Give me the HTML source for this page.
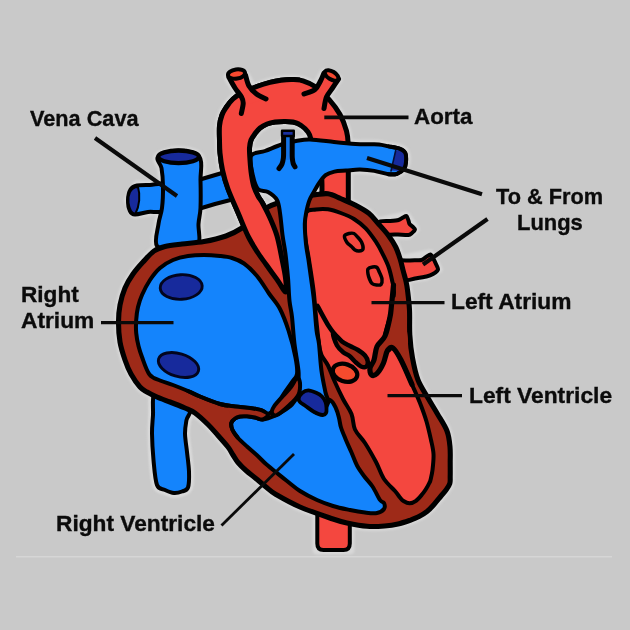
<!DOCTYPE html>
<html><head><meta charset="utf-8"><title>Heart diagram</title>
<style>
html,body{margin:0;padding:0;background:#c9c9c9;}
body{width:630px;height:630px;overflow:hidden;position:relative;font-family:"Liberation Sans",sans-serif;}
svg{position:absolute;left:0;top:0;display:block}
#wrap{position:absolute;left:0;top:0;width:630px;height:630px;filter:blur(0.45px)}
.lb{position:absolute;font-family:"Liberation Sans",sans-serif;font-weight:bold;font-size:22.5px;line-height:26px;color:#0b0b0b;white-space:nowrap;letter-spacing:0px;-webkit-text-stroke:0.35px #0b0b0b}
</style></head><body>
<div id="wrap">
<svg width="630" height="630" viewBox="0 0 630 630">
<rect width="630" height="630" fill="#c9c9c9"/>
<defs><clipPath id="frontclip"><rect x="200" y="60" width="100" height="250"/></clipPath><filter id="halo" x="-10%" y="-10%" width="120%" height="120%"><feGaussianBlur stdDeviation="1.1"/></filter></defs>
<rect x="16" y="556" width="596" height="1.5" fill="#d6d6d6"/>
<g fill="none" stroke="#d8d8d8" stroke-width="9" stroke-linejoin="round" filter="url(#halo)"><path d="M118.5,322.0 C118.5,315.8 118.9,310.7 120.0,305.0 C121.1,299.3 122.8,293.2 125.0,288.0 C127.2,282.8 130.0,278.3 133.0,274.0 C136.0,269.7 139.5,265.8 143.0,262.0 C146.5,258.2 150.3,253.6 154.0,251.0 C157.7,248.4 160.3,247.7 165.0,246.5 C169.7,245.3 175.5,244.8 182.0,244.0 C188.5,243.2 196.7,242.8 204.0,241.5 C211.3,240.2 219.7,238.2 226.0,236.0 C232.3,233.8 237.0,231.2 242.0,228.0 C247.0,224.8 251.7,220.5 256.0,217.0 C260.3,213.5 262.3,210.0 268.0,207.0 C273.7,204.0 284.2,200.8 290.0,199.0 C295.8,197.2 298.8,197.2 303.0,196.5 C307.2,195.8 311.2,195.2 315.4,194.8 C319.6,194.4 323.8,193.2 328.0,193.8 C332.2,194.4 336.2,196.7 340.5,198.5 C344.8,200.3 349.3,202.0 354.0,204.5 C358.7,207.0 364.7,210.1 368.8,213.3 C372.9,216.6 375.3,220.3 378.6,224.0 C381.9,227.7 385.8,231.9 388.6,235.7 C391.5,239.5 393.8,243.2 395.7,247.0 C397.6,250.8 398.8,254.8 400.0,258.6 C401.2,262.4 402.1,266.4 403.0,270.0 C403.9,273.6 404.9,276.7 405.7,280.0 C406.4,283.3 406.9,285.0 407.5,290.0 C408.1,295.0 409.1,302.5 409.5,310.0 C409.9,317.5 409.3,327.0 409.8,335.0 C410.3,343.0 411.1,350.5 412.5,358.0 C413.9,365.5 415.4,373.3 418.0,380.0 C420.6,386.7 424.8,392.3 428.0,398.0 C431.2,403.7 434.3,408.5 437.5,414.0 C440.7,419.5 444.9,425.5 447.0,431.0 C449.1,436.5 449.5,441.8 450.0,447.0 C450.5,452.2 450.2,457.2 450.2,462.0 C450.2,466.8 450.3,472.4 450.2,476.0 C450.1,479.6 450.5,481.2 449.8,483.5 C449.1,485.8 447.5,487.9 446.0,490.0 C444.5,492.1 443.0,493.6 441.0,496.0 C439.0,498.4 436.3,501.9 434.0,504.5 C431.7,507.1 429.5,509.5 427.0,511.5 C424.5,513.5 421.8,515.0 419.0,516.5 C416.2,518.0 413.5,519.0 410.0,520.3 C406.5,521.5 402.2,523.0 398.0,524.0 C393.8,525.0 389.7,525.6 384.5,526.0 C379.3,526.4 373.2,526.8 367.0,526.3 C360.8,525.8 352.7,524.2 347.0,523.0 C341.3,521.8 340.8,521.7 333.0,519.0 C325.2,516.3 309.5,511.1 300.0,507.0 C290.5,502.9 281.7,497.8 276.0,494.5 C270.3,491.2 269.2,489.6 266.0,487.0 C262.8,484.4 259.8,481.8 256.5,479.0 C253.2,476.2 249.1,473.2 246.0,470.5 C242.9,467.8 240.2,465.1 238.0,462.5 C235.8,459.9 234.7,457.6 233.0,455.0 C231.3,452.4 230.5,450.2 228.0,447.0 C225.5,443.8 221.3,439.2 218.0,435.5 C214.7,431.8 211.8,428.2 208.0,424.5 C204.2,420.8 198.8,415.8 195.0,413.0 C191.2,410.2 189.2,409.8 185.0,408.0 C180.8,406.2 174.7,403.8 170.0,402.0 C165.3,400.2 160.8,398.7 157.0,397.0 C153.2,395.3 149.8,393.7 147.0,392.0 C144.2,390.3 142.7,390.0 140.0,387.0 C137.3,384.0 133.5,378.5 131.0,374.0 C128.5,369.5 126.8,365.3 125.0,360.0 C123.2,354.7 121.1,348.3 120.0,342.0 C118.9,335.7 118.5,328.2 118.5,322.0Z"/><path d="M154.5,392.0 C151.7,396.5 153.4,408.1 153.0,415.0 C152.6,421.9 151.9,426.0 152.0,433.5 C152.1,441.0 152.7,451.4 153.5,460.0 C154.3,468.6 155.1,480.0 157.0,485.0 C158.9,490.0 162.2,488.7 165.0,490.0 C167.8,491.3 171.2,492.8 174.0,493.0 C176.8,493.2 179.7,492.4 182.0,491.5 C184.3,490.6 186.8,490.8 188.0,487.5 C189.2,484.2 189.2,477.4 189.0,471.5 C188.8,465.6 187.7,458.3 187.0,452.0 C186.3,445.7 185.1,438.8 185.0,433.5 C184.9,428.2 185.8,424.2 186.5,420.0 C187.2,415.8 192.2,413.3 189.5,408.0 C186.8,402.7 175.8,390.7 170.0,388.0 C164.2,385.3 157.3,387.5 154.5,392.0Z"/><path d="M285.8,292.0 C284.6,292.5 281.2,285.5 278.0,281.0 C274.8,276.5 269.8,269.7 266.5,265.0 C263.2,260.3 261.0,257.7 258.0,253.0 C255.0,248.3 251.7,243.3 248.5,237.0 C245.3,230.7 242.4,223.0 239.0,215.0 C235.6,207.0 230.8,196.5 228.0,189.0 C225.2,181.5 223.8,176.0 222.5,170.0 C221.2,164.0 220.5,158.0 220.0,153.0 C219.5,148.0 219.6,144.5 219.5,140.0 C219.4,135.5 219.1,130.2 219.5,126.0 C219.9,121.8 220.8,118.2 222.0,115.0 C223.2,111.8 224.7,109.7 226.5,107.0 C228.3,104.3 230.6,101.2 233.0,99.0 C235.4,96.8 236.9,95.6 241.0,93.5 C245.1,91.4 252.7,88.2 257.5,86.3 C262.3,84.4 266.1,83.3 270.0,82.3 C273.9,81.3 277.2,80.7 281.0,80.2 C284.8,79.7 289.3,79.4 293.0,79.5 C296.7,79.6 299.3,79.6 303.0,80.8 C306.7,82.0 310.7,83.4 315.0,86.5 C319.3,89.6 324.8,94.6 329.0,99.3 C333.2,104.0 337.1,109.2 340.0,114.5 C342.9,119.8 345.1,125.9 346.5,131.0 C347.9,136.1 347.9,140.2 348.2,145.0 C348.5,149.8 348.3,154.2 348.3,160.0 C348.3,165.8 348.3,173.3 348.3,180.0 C348.3,186.7 348.3,195.3 348.3,200.0 C348.3,204.7 352.7,206.7 348.3,208.0 C343.9,209.3 326.4,211.0 322.0,208.0 C317.6,205.0 322.1,195.3 322.0,190.0 C321.9,184.7 322.3,180.7 321.3,176.0 C320.3,171.3 317.6,166.3 316.0,162.0 C314.4,157.7 312.3,153.8 311.5,150.0 C310.7,146.2 311.6,142.5 311.0,139.5 C310.4,136.5 309.8,134.4 308.0,132.0 C306.2,129.6 303.0,126.7 300.5,125.0 C298.0,123.3 295.8,122.6 293.0,122.0 C290.2,121.4 287.0,121.5 284.0,121.5 C281.0,121.5 277.8,121.6 275.0,122.0 C272.2,122.4 269.5,123.0 267.0,124.0 C264.5,125.0 262.0,126.4 260.0,128.0 C258.0,129.6 256.5,131.6 255.0,133.6 C253.5,135.6 251.9,137.6 251.0,140.0 C250.1,142.4 249.7,144.7 249.5,148.0 C249.3,151.3 249.7,155.5 250.0,160.0 C250.3,164.5 250.8,170.5 251.5,175.0 C252.2,179.5 252.9,183.5 254.0,187.0 C255.1,190.5 256.5,193.2 258.0,196.0 C259.5,198.8 261.0,200.3 263.0,204.0 C265.0,207.7 267.7,212.7 270.0,218.0 C272.3,223.3 275.0,229.2 277.0,236.0 C279.0,242.8 280.6,252.0 282.0,259.0 C283.4,266.0 284.9,272.5 285.5,278.0 C286.1,283.5 287.1,291.5 285.8,292.0Z"/><path d="M158.0,157.0 C155.2,159.9 160.7,163.2 161.5,168.0 C162.3,172.8 162.9,179.3 163.0,186.0 C163.1,192.7 162.8,201.7 162.0,208.0 C161.2,214.3 159.3,217.7 158.5,224.0 C157.7,230.3 153.8,241.7 157.0,246.0 C160.2,250.3 171.2,250.0 178.0,250.0 C184.8,250.0 194.6,250.3 198.0,246.0 C201.4,241.7 198.1,230.3 198.5,224.0 C198.9,217.7 200.2,215.3 200.5,208.0 C200.8,200.7 200.7,188.5 200.5,180.0 C200.3,171.5 203.2,161.9 199.5,157.0 C195.8,152.1 184.9,150.5 178.0,150.5 C171.1,150.5 160.8,154.1 158.0,157.0Z"/><path d="M251.0,156.0 C253.0,151.8 259.9,152.9 265.0,151.0 C270.1,149.1 276.3,146.2 281.5,144.5 C286.7,142.8 291.2,141.8 296.0,141.0 C300.8,140.2 303.7,139.3 310.0,139.5 C316.3,139.7 326.4,141.2 334.0,142.0 C341.6,142.8 349.5,143.6 355.5,144.0 C361.5,144.4 366.1,144.2 370.0,144.3 C373.9,144.4 375.9,144.2 379.0,144.5 C382.1,144.8 385.1,145.7 388.6,146.4 C392.1,147.1 397.2,147.7 400.0,148.8 C402.8,149.9 404.3,150.8 405.3,153.0 C406.3,155.2 406.2,159.4 406.0,162.0 C405.8,164.6 405.5,166.8 404.0,168.8 C402.5,170.8 399.6,172.9 397.0,173.8 C394.4,174.7 392.4,174.8 388.6,174.3 C384.8,173.8 379.1,171.7 374.3,170.9 C369.5,170.1 364.7,169.7 360.0,169.6 C355.3,169.5 350.3,170.3 346.0,170.6 C341.7,170.9 337.8,170.8 334.4,171.6 C331.0,172.4 328.1,173.3 325.6,175.2 C323.1,177.1 321.1,180.2 319.2,182.9 C317.3,185.7 315.6,188.8 314.0,191.7 C312.4,194.6 310.6,197.2 309.3,200.6 C308.0,204.0 307.1,208.1 306.3,212.0 C305.6,215.9 304.9,218.7 304.8,224.0 C304.8,229.3 305.4,238.0 306.0,244.0 C306.6,250.0 307.7,254.3 308.5,260.0 C309.3,265.7 310.1,271.2 311.0,278.0 C311.9,284.8 313.1,292.3 314.0,301.0 C314.9,309.7 315.7,322.8 316.5,330.0 C317.3,337.2 318.2,337.2 319.0,344.0 C319.8,350.8 320.4,362.9 321.5,371.0 C322.6,379.1 324.4,387.2 325.5,392.5 C326.6,397.8 329.2,399.6 328.0,403.0 C326.8,406.4 322.7,414.2 318.0,413.0 C313.3,411.8 303.2,403.0 300.0,396.0 C296.8,389.0 299.4,379.7 298.5,371.0 C297.6,362.3 295.6,353.0 294.5,344.0 C293.4,335.0 292.8,324.2 292.0,317.0 C291.2,309.8 290.2,307.5 289.5,301.0 C288.8,294.5 288.7,285.8 288.0,278.0 C287.3,270.2 286.4,261.2 285.5,254.0 C284.6,246.8 283.4,241.8 282.5,235.0 C281.6,228.2 280.9,218.8 280.0,213.0 C279.1,207.2 279.0,203.5 277.0,200.0 C275.0,196.5 271.2,193.8 268.0,192.0 C264.8,190.2 260.5,191.7 258.0,189.0 C255.5,186.3 254.2,181.5 253.0,176.0 C251.8,170.5 249.0,160.2 251.0,156.0Z"/><path d="M165,185 L137,185 L128,200 L135,214 L165,209Z"/><path d="M317,505 L317,550 L350,550 L350,505Z"/><path d="M379,222 L406,216 L415,229 L408,235 L385,234Z"/><path d="M395,261 L430,254 L438,269 L426,276 L405,279Z"/><path d="M228,77 L245,75 L256,95 L243,100Z"/><path d="M324,73 L338,79 L326,97 L314,90Z"/></g>
<path d="M154.5,392.0 C151.7,396.5 153.4,408.1 153.0,415.0 C152.6,421.9 151.9,426.0 152.0,433.5 C152.1,441.0 152.7,451.4 153.5,460.0 C154.3,468.6 155.1,480.0 157.0,485.0 C158.9,490.0 162.2,488.7 165.0,490.0 C167.8,491.3 171.2,492.8 174.0,493.0 C176.8,493.2 179.7,492.4 182.0,491.5 C184.3,490.6 186.8,490.8 188.0,487.5 C189.2,484.2 189.2,477.4 189.0,471.5 C188.8,465.6 187.7,458.3 187.0,452.0 C186.3,445.7 185.1,438.8 185.0,433.5 C184.9,428.2 185.8,424.2 186.5,420.0 C187.2,415.8 192.2,413.3 189.5,408.0 C186.8,402.7 175.8,390.7 170.0,388.0 C164.2,385.3 157.3,387.5 154.5,392.0Z" fill="none" stroke="#d9d9d9" stroke-width="8" filter="url(#halo)"/>
<path d="M154.5,392.0 C151.7,396.5 153.4,408.1 153.0,415.0 C152.6,421.9 151.9,426.0 152.0,433.5 C152.1,441.0 152.7,451.4 153.5,460.0 C154.3,468.6 155.1,480.0 157.0,485.0 C158.9,490.0 162.2,488.7 165.0,490.0 C167.8,491.3 171.2,492.8 174.0,493.0 C176.8,493.2 179.7,492.4 182.0,491.5 C184.3,490.6 186.8,490.8 188.0,487.5 C189.2,484.2 189.2,477.4 189.0,471.5 C188.8,465.6 187.7,458.3 187.0,452.0 C186.3,445.7 185.1,438.8 185.0,433.5 C184.9,428.2 185.8,424.2 186.5,420.0 C187.2,415.8 192.2,413.3 189.5,408.0 C186.8,402.7 175.8,390.7 170.0,388.0 C164.2,385.3 157.3,387.5 154.5,392.0Z" fill="#1484fc" stroke="#000" stroke-width="4" stroke-linejoin="round" stroke-linecap="round" />
<path d="M317.3,505 L317.3,543.5 Q317.3,550 323.5,550 L343.5,550 Q349.8,550 349.8,543.5 L349.8,505 Z" fill="#f4473f" stroke="#000" stroke-width="4" stroke-linejoin="round" stroke-linecap="round" />
<path d="M165.0,185.5 C162.5,181.4 154.7,185.0 150.0,185.0 C145.3,185.0 140.2,184.8 137.0,185.5 C133.8,186.2 132.0,187.1 130.5,189.5 C129.0,191.9 128.1,196.4 128.0,200.0 C127.9,203.6 128.8,208.6 130.0,211.0 C131.2,213.4 132.0,214.3 135.0,214.5 C138.0,214.7 143.0,212.8 148.0,212.0 C153.0,211.2 162.2,213.9 165.0,209.5 C167.8,205.1 167.5,189.6 165.0,185.5Z" fill="#1484fc" stroke="#000" stroke-width="4" stroke-linejoin="round" stroke-linecap="round" />
<path d="M138,187 C130,187 127.5,196 128.5,203 C129.5,210 132,214 135.5,213.5 C139.5,206 140.5,195 138,187Z" fill="#172a9c" stroke="#000" stroke-width="2" stroke-linejoin="round" stroke-linecap="round" />
<path d="M195.0,181.0 L222.0,173.0 L245.0,166.0 L245.0,197.0 L228.5,200.5 L215.0,204.0 L195.0,210.0Z" fill="#1484fc" stroke="#000" stroke-width="4" stroke-linejoin="round" stroke-linecap="round" />
<path d="M158.0,157.0 C155.2,159.9 160.7,163.2 161.5,168.0 C162.3,172.8 162.9,179.3 163.0,186.0 C163.1,192.7 162.8,201.7 162.0,208.0 C161.2,214.3 159.3,217.7 158.5,224.0 C157.7,230.3 153.8,241.7 157.0,246.0 C160.2,250.3 171.2,250.0 178.0,250.0 C184.8,250.0 194.6,250.3 198.0,246.0 C201.4,241.7 198.1,230.3 198.5,224.0 C198.9,217.7 200.2,215.3 200.5,208.0 C200.8,200.7 200.7,188.5 200.5,180.0 C200.3,171.5 203.2,161.9 199.5,157.0 C195.8,152.1 184.9,150.5 178.0,150.5 C171.1,150.5 160.8,154.1 158.0,157.0Z" fill="#1484fc" stroke="#000" stroke-width="4" stroke-linejoin="round" stroke-linecap="round" />
<ellipse cx="178.6" cy="156.8" rx="20.3" ry="6.3" fill="#172a9c" stroke="#000" stroke-width="4.4"/>
<path d="M379.0,222.0 C379.6,220.5 387.7,221.2 390.0,221.0 C392.3,220.8 397.0,220.4 398.5,220.0 C400.0,219.6 402.1,218.0 403.0,217.5 C403.9,217.0 405.9,215.7 406.5,216.0 C407.1,216.3 407.9,219.1 408.3,220.0 C408.7,220.9 409.0,223.2 409.5,224.0 C410.0,224.8 411.9,225.9 412.5,226.5 C413.1,227.1 415.1,228.7 415.0,229.5 C414.9,230.3 412.8,232.4 412.0,233.0 C411.2,233.6 410.1,234.8 408.5,235.0 C406.9,235.2 400.7,234.6 398.0,234.5 C395.3,234.4 387.2,235.5 385.0,234.0 C382.8,232.5 378.4,223.5 379.0,222.0Z" fill="#f4473f" stroke="#000" stroke-width="4" stroke-linejoin="round" stroke-linecap="round" />
<path d="M395.0,261.5 C395.6,259.3 406.9,260.7 410.0,260.5 C413.1,260.3 419.6,260.4 421.5,260.0 C423.4,259.6 424.9,257.6 426.0,257.0 C427.1,256.4 429.6,254.3 430.5,254.5 C431.4,254.7 432.9,258.0 433.5,259.0 C434.1,260.0 435.0,261.8 435.5,263.0 C436.0,264.2 438.3,268.2 438.0,269.5 C437.7,270.8 434.3,273.2 433.0,274.0 C431.7,274.8 428.6,276.0 426.5,276.5 C424.4,277.0 417.5,278.1 415.0,278.5 C412.5,278.9 407.3,281.5 405.0,279.5 C402.7,277.5 394.4,263.7 395.0,261.5Z" fill="#f4473f" stroke="#000" stroke-width="4" stroke-linejoin="round" stroke-linecap="round" />
<path d="M285.8,292.0 C284.6,292.5 281.2,285.5 278.0,281.0 C274.8,276.5 269.8,269.7 266.5,265.0 C263.2,260.3 261.0,257.7 258.0,253.0 C255.0,248.3 251.7,243.3 248.5,237.0 C245.3,230.7 242.4,223.0 239.0,215.0 C235.6,207.0 230.8,196.5 228.0,189.0 C225.2,181.5 223.8,176.0 222.5,170.0 C221.2,164.0 220.5,158.0 220.0,153.0 C219.5,148.0 219.6,144.5 219.5,140.0 C219.4,135.5 219.1,130.2 219.5,126.0 C219.9,121.8 220.8,118.2 222.0,115.0 C223.2,111.8 224.7,109.7 226.5,107.0 C228.3,104.3 230.6,101.2 233.0,99.0 C235.4,96.8 236.9,95.6 241.0,93.5 C245.1,91.4 252.7,88.2 257.5,86.3 C262.3,84.4 266.1,83.3 270.0,82.3 C273.9,81.3 277.2,80.7 281.0,80.2 C284.8,79.7 289.3,79.4 293.0,79.5 C296.7,79.6 299.3,79.6 303.0,80.8 C306.7,82.0 310.7,83.4 315.0,86.5 C319.3,89.6 324.8,94.6 329.0,99.3 C333.2,104.0 337.1,109.2 340.0,114.5 C342.9,119.8 345.1,125.9 346.5,131.0 C347.9,136.1 347.9,140.2 348.2,145.0 C348.5,149.8 348.3,154.2 348.3,160.0 C348.3,165.8 348.3,173.3 348.3,180.0 C348.3,186.7 348.3,195.3 348.3,200.0 C348.3,204.7 352.7,206.7 348.3,208.0 C343.9,209.3 326.4,211.0 322.0,208.0 C317.6,205.0 322.1,195.3 322.0,190.0 C321.9,184.7 322.3,180.7 321.3,176.0 C320.3,171.3 317.6,166.3 316.0,162.0 C314.4,157.7 312.3,153.8 311.5,150.0 C310.7,146.2 311.6,142.5 311.0,139.5 C310.4,136.5 309.8,134.4 308.0,132.0 C306.2,129.6 303.0,126.7 300.5,125.0 C298.0,123.3 295.8,122.6 293.0,122.0 C290.2,121.4 287.0,121.5 284.0,121.5 C281.0,121.5 277.8,121.6 275.0,122.0 C272.2,122.4 269.5,123.0 267.0,124.0 C264.5,125.0 262.0,126.4 260.0,128.0 C258.0,129.6 256.5,131.6 255.0,133.6 C253.5,135.6 251.9,137.6 251.0,140.0 C250.1,142.4 249.7,144.7 249.5,148.0 C249.3,151.3 249.7,155.5 250.0,160.0 C250.3,164.5 250.8,170.5 251.5,175.0 C252.2,179.5 252.9,183.5 254.0,187.0 C255.1,190.5 256.5,193.2 258.0,196.0 C259.5,198.8 261.0,200.3 263.0,204.0 C265.0,207.7 267.7,212.7 270.0,218.0 C272.3,223.3 275.0,229.2 277.0,236.0 C279.0,242.8 280.6,252.0 282.0,259.0 C283.4,266.0 284.9,272.5 285.5,278.0 C286.1,283.5 287.1,291.5 285.8,292.0Z" fill="#f4473f" stroke="#000" stroke-width="5" stroke-linejoin="round" stroke-linecap="round" />
<path d="M118.5,322.0 C118.5,315.8 118.9,310.7 120.0,305.0 C121.1,299.3 122.8,293.2 125.0,288.0 C127.2,282.8 130.0,278.3 133.0,274.0 C136.0,269.7 139.5,265.8 143.0,262.0 C146.5,258.2 150.3,253.6 154.0,251.0 C157.7,248.4 160.3,247.7 165.0,246.5 C169.7,245.3 175.5,244.8 182.0,244.0 C188.5,243.2 196.7,242.8 204.0,241.5 C211.3,240.2 219.7,238.2 226.0,236.0 C232.3,233.8 237.0,231.2 242.0,228.0 C247.0,224.8 251.7,220.5 256.0,217.0 C260.3,213.5 262.3,210.0 268.0,207.0 C273.7,204.0 284.2,200.8 290.0,199.0 C295.8,197.2 298.8,197.2 303.0,196.5 C307.2,195.8 311.2,195.2 315.4,194.8 C319.6,194.4 323.8,193.2 328.0,193.8 C332.2,194.4 336.2,196.7 340.5,198.5 C344.8,200.3 349.3,202.0 354.0,204.5 C358.7,207.0 364.7,210.1 368.8,213.3 C372.9,216.6 375.3,220.3 378.6,224.0 C381.9,227.7 385.8,231.9 388.6,235.7 C391.5,239.5 393.8,243.2 395.7,247.0 C397.6,250.8 398.8,254.8 400.0,258.6 C401.2,262.4 402.1,266.4 403.0,270.0 C403.9,273.6 404.9,276.7 405.7,280.0 C406.4,283.3 406.9,285.0 407.5,290.0 C408.1,295.0 409.1,302.5 409.5,310.0 C409.9,317.5 409.3,327.0 409.8,335.0 C410.3,343.0 411.1,350.5 412.5,358.0 C413.9,365.5 415.4,373.3 418.0,380.0 C420.6,386.7 424.8,392.3 428.0,398.0 C431.2,403.7 434.3,408.5 437.5,414.0 C440.7,419.5 444.9,425.5 447.0,431.0 C449.1,436.5 449.5,441.8 450.0,447.0 C450.5,452.2 450.2,457.2 450.2,462.0 C450.2,466.8 450.3,472.4 450.2,476.0 C450.1,479.6 450.5,481.2 449.8,483.5 C449.1,485.8 447.5,487.9 446.0,490.0 C444.5,492.1 443.0,493.6 441.0,496.0 C439.0,498.4 436.3,501.9 434.0,504.5 C431.7,507.1 429.5,509.5 427.0,511.5 C424.5,513.5 421.8,515.0 419.0,516.5 C416.2,518.0 413.5,519.0 410.0,520.3 C406.5,521.5 402.2,523.0 398.0,524.0 C393.8,525.0 389.7,525.6 384.5,526.0 C379.3,526.4 373.2,526.8 367.0,526.3 C360.8,525.8 352.7,524.2 347.0,523.0 C341.3,521.8 340.8,521.7 333.0,519.0 C325.2,516.3 309.5,511.1 300.0,507.0 C290.5,502.9 281.7,497.8 276.0,494.5 C270.3,491.2 269.2,489.6 266.0,487.0 C262.8,484.4 259.8,481.8 256.5,479.0 C253.2,476.2 249.1,473.2 246.0,470.5 C242.9,467.8 240.2,465.1 238.0,462.5 C235.8,459.9 234.7,457.6 233.0,455.0 C231.3,452.4 230.5,450.2 228.0,447.0 C225.5,443.8 221.3,439.2 218.0,435.5 C214.7,431.8 211.8,428.2 208.0,424.5 C204.2,420.8 198.8,415.8 195.0,413.0 C191.2,410.2 189.2,409.8 185.0,408.0 C180.8,406.2 174.7,403.8 170.0,402.0 C165.3,400.2 160.8,398.7 157.0,397.0 C153.2,395.3 149.8,393.7 147.0,392.0 C144.2,390.3 142.7,390.0 140.0,387.0 C137.3,384.0 133.5,378.5 131.0,374.0 C128.5,369.5 126.8,365.3 125.0,360.0 C123.2,354.7 121.1,348.3 120.0,342.0 C118.9,335.7 118.5,328.2 118.5,322.0Z" fill="#9e2a18" stroke="#000" stroke-width="5.1" stroke-linejoin="round" stroke-linecap="round" />
<path d="M173.0,260.0 C168.3,262.0 163.8,264.7 160.0,268.0 C156.2,271.3 153.0,275.5 150.0,280.0 C147.0,284.5 144.0,290.5 142.0,295.0 C140.0,299.5 139.0,302.8 138.0,307.0 C137.0,311.2 136.5,315.7 136.2,320.0 C135.9,324.3 135.8,328.7 136.2,333.0 C136.6,337.3 137.5,342.0 138.5,346.0 C139.5,350.0 140.2,352.2 142.0,357.0 C143.8,361.8 146.5,370.6 149.5,374.5 C152.5,378.4 156.1,378.8 160.0,380.5 C163.9,382.2 168.3,383.2 173.0,385.0 C177.7,386.8 183.5,389.1 188.0,391.0 C192.5,392.9 194.7,394.3 200.0,396.5 C205.3,398.7 214.2,402.3 220.0,404.0 C225.8,405.7 230.0,405.8 235.0,406.5 C240.0,407.2 245.5,407.3 250.0,408.0 C254.5,408.7 259.0,409.5 262.0,410.5 C265.0,411.5 265.8,414.4 268.0,414.0 C270.2,413.6 272.5,411.2 275.0,408.0 C277.5,404.8 280.2,399.3 283.0,395.0 C285.8,390.7 289.7,385.5 292.0,382.0 C294.3,378.5 296.4,378.1 297.0,374.0 C297.6,369.9 296.9,364.8 295.5,357.5 C294.1,350.2 291.1,338.6 288.5,330.5 C285.9,322.4 283.2,315.2 280.0,309.0 C276.8,302.8 272.8,299.0 269.0,293.5 C265.2,288.0 261.2,281.0 257.0,276.0 C252.8,271.0 248.2,266.5 244.0,263.5 C239.8,260.5 236.0,259.2 232.0,258.0 C228.0,256.8 224.7,256.5 220.0,256.0 C215.3,255.5 209.3,255.0 204.0,255.0 C198.7,255.0 193.2,255.2 188.0,256.0 C182.8,256.8 177.7,258.0 173.0,260.0Z" fill="#1484fc" stroke="#000" stroke-width="4" stroke-linejoin="round" stroke-linecap="round" />
<ellipse cx="181.2" cy="287" rx="21" ry="12.3" fill="#172a9c" stroke="#02051e" stroke-width="2.9" transform="rotate(-3 181.2 287)"/>
<ellipse cx="178.5" cy="365" rx="20.8" ry="11.4" fill="#172a9c" stroke="#02051e" stroke-width="2.9" transform="rotate(17 178.5 365)"/>
<path d="M268.0,418.5 C265.1,419.6 264.6,419.7 262.4,419.5 C260.2,419.3 257.6,418.0 255.0,417.5 C252.4,417.0 249.5,416.5 247.0,416.3 C244.5,416.1 242.0,416.1 240.0,416.5 C238.0,416.9 236.4,417.4 235.0,418.5 C233.6,419.6 231.7,421.1 231.3,423.0 C230.9,424.9 231.4,427.6 232.5,430.0 C233.6,432.4 235.2,434.8 237.6,437.5 C240.0,440.2 243.8,443.6 247.0,446.5 C250.2,449.4 253.5,452.1 256.7,455.0 C259.9,457.9 262.8,461.2 266.0,464.0 C269.2,466.8 272.2,469.2 275.7,472.0 C279.2,474.8 282.9,477.8 287.0,481.0 C291.1,484.2 295.0,487.8 300.0,491.0 C305.0,494.2 311.5,497.5 317.0,500.0 C322.5,502.5 327.5,504.3 333.0,506.0 C338.5,507.7 344.7,508.9 350.0,510.0 C355.3,511.1 360.5,512.0 365.0,512.5 C369.5,513.0 373.8,513.6 377.0,513.0 C380.2,512.4 382.8,510.7 384.0,509.0 C385.2,507.3 384.7,504.5 384.0,503.0 C383.3,501.5 381.9,502.8 380.0,500.0 C378.1,497.2 375.2,490.5 372.5,486.5 C369.8,482.5 366.6,479.5 364.0,476.0 C361.4,472.5 359.1,469.4 357.0,465.5 C354.9,461.6 353.4,456.9 351.5,452.5 C349.6,448.1 347.2,443.2 345.5,439.0 C343.8,434.8 342.1,431.0 341.0,427.5 C339.9,424.0 339.8,421.2 339.0,418.0 C338.2,414.8 337.5,411.5 336.0,408.5 C334.5,405.5 333.5,401.8 330.0,400.0 C326.5,398.2 320.0,398.7 315.0,398.0 C310.0,397.3 304.1,394.7 300.0,396.0 C295.9,397.3 293.8,403.2 290.5,406.0 C287.2,408.8 283.8,410.9 280.0,413.0 C276.2,415.1 270.9,417.4 268.0,418.5Z" fill="#1484fc" stroke="#000" stroke-width="4" stroke-linejoin="round" stroke-linecap="round" />
<path d="M306.0,213.0 C307.8,208.8 312.3,210.1 316.0,209.5 C319.7,208.9 323.9,208.7 328.0,209.3 C332.1,209.9 336.5,211.4 340.8,213.0 C345.1,214.6 349.9,216.4 354.0,219.0 C358.1,221.6 362.1,224.6 365.7,228.3 C369.3,232.0 372.8,237.1 375.7,241.4 C378.6,245.7 380.8,250.0 382.9,254.3 C385.0,258.6 387.1,262.7 388.6,267.0 C390.1,271.3 391.1,275.8 392.0,280.0 C392.9,284.2 394.0,287.8 394.0,292.0 C394.0,296.2 392.7,300.8 392.0,305.0 C391.3,309.2 391.2,311.8 390.0,317.0 C388.8,322.2 385.3,330.5 385.0,336.0 C384.7,341.5 386.7,348.0 388.0,350.0 C389.3,352.0 390.8,346.3 393.0,348.0 C395.2,349.7 397.8,353.9 401.0,360.0 C404.2,366.1 408.8,377.3 412.0,384.5 C415.2,391.7 417.6,396.8 420.0,403.0 C422.4,409.2 424.7,415.3 426.5,421.5 C428.3,427.7 429.8,434.6 431.0,440.0 C432.2,445.4 433.2,449.0 433.5,454.0 C433.8,459.0 433.0,465.7 432.5,470.0 C432.0,474.3 431.0,477.8 430.5,480.0 C430.0,482.2 430.1,481.5 429.3,483.0 C428.6,484.5 427.2,487.1 426.0,489.0 C424.8,490.9 423.9,492.3 422.2,494.3 C420.5,496.3 418.1,499.3 416.0,500.8 C413.9,502.3 411.6,503.3 409.5,503.3 C407.4,503.3 405.1,502.0 403.5,501.0 C401.9,500.0 401.4,499.2 400.0,497.5 C398.6,495.8 397.7,494.1 395.0,491.0 C392.3,487.9 387.2,483.8 384.0,479.0 C380.8,474.2 379.2,468.0 376.0,462.0 C372.8,456.0 368.5,448.4 365.0,443.0 C361.5,437.6 357.2,434.3 355.0,429.5 C352.8,424.7 353.5,419.1 351.5,414.0 C349.5,408.9 345.9,404.7 343.0,399.0 C340.1,393.3 336.5,385.6 334.0,380.0 C331.5,374.4 330.1,369.7 328.0,365.5 C325.9,361.3 323.0,358.6 321.5,355.0 C320.0,351.4 319.9,350.3 319.0,344.0 C318.1,337.7 316.9,326.0 316.0,317.0 C315.1,308.0 314.7,299.5 313.5,290.0 C312.3,280.5 310.4,269.2 309.0,260.0 C307.6,250.8 305.5,242.8 305.0,235.0 C304.5,227.2 304.2,217.2 306.0,213.0Z" fill="#f4473f" stroke="#000" stroke-width="4" stroke-linejoin="round" stroke-linecap="round" />
<path d="M344.5,236.0 C344.8,234.8 347.7,233.8 349.0,233.5 C350.3,233.2 352.8,233.0 354.0,233.5 C355.2,234.0 357.0,236.4 358.0,237.5 C359.0,238.6 360.8,240.5 361.5,242.0 C362.2,243.5 363.3,247.8 363.0,249.0 C362.7,250.2 360.1,250.9 359.0,251.0 C357.9,251.1 356.0,250.6 355.0,250.0 C354.0,249.4 352.6,247.5 351.5,246.5 C350.4,245.5 347.9,243.9 347.0,242.5 C346.1,241.1 344.2,237.2 344.5,236.0Z" fill="#f4473f" stroke="#000" stroke-width="3.5" stroke-linejoin="round" stroke-linecap="round" />
<path d="M368.0,269.0 C368.6,268.1 371.3,267.2 372.5,267.0 C373.7,266.8 376.1,266.8 377.0,267.5 C377.9,268.2 378.8,271.0 379.5,272.5 C380.2,274.0 381.8,277.4 382.0,279.0 C382.2,280.6 381.7,283.7 381.0,284.5 C380.3,285.3 377.7,285.1 376.5,285.0 C375.3,284.9 372.9,284.3 372.0,283.5 C371.1,282.7 370.0,280.3 369.5,279.0 C369.0,277.7 368.2,275.3 368.0,274.0 C367.8,272.7 367.4,269.9 368.0,269.0Z" fill="#f4473f" stroke="#000" stroke-width="3.5" stroke-linejoin="round" stroke-linecap="round" />
<path d="M392.0,300.0 C390.3,303.7 391.2,316.0 390.0,322.0 C388.8,328.0 387.2,331.9 385.0,336.0 C382.8,340.1 378.8,342.5 377.0,346.5 C375.2,350.5 375.2,356.4 374.0,360.0 C372.8,363.6 370.4,365.5 370.0,368.0 C369.6,370.5 370.3,374.1 371.5,375.0 C372.7,375.9 375.0,375.5 377.0,373.5 C379.0,371.5 381.8,366.8 383.5,363.0 C385.2,359.2 385.9,353.0 387.5,350.5 C389.1,348.0 390.8,346.4 393.0,348.0 C395.2,349.6 398.5,360.5 401.0,360.0 C403.5,359.5 407.3,351.7 408.0,345.0 C408.7,338.3 406.3,327.5 405.0,320.0 C403.7,312.5 402.2,303.3 400.0,300.0 C397.8,296.7 393.7,296.3 392.0,300.0Z" fill="#9e2a18" stroke="none" stroke-width="0" stroke-linejoin="round" stroke-linecap="round" />
<path d="M393.5,285.0 C393.2,288.3 392.1,299.7 391.5,305.0 C390.9,310.3 391.1,311.8 390.0,317.0 C388.9,322.2 387.2,331.1 385.0,336.0 C382.8,340.9 378.8,342.5 377.0,346.5 C375.2,350.5 375.2,356.4 374.0,360.0 C372.8,363.6 370.4,365.5 370.0,368.0 C369.6,370.5 370.3,374.1 371.5,375.0 C372.7,375.9 375.0,375.5 377.0,373.5 C379.0,371.5 381.8,366.8 383.5,363.0 C385.2,359.2 385.9,353.0 387.5,350.5 C389.1,348.0 390.8,346.4 393.0,348.0 C395.2,349.6 397.8,353.9 401.0,360.0 C404.2,366.1 410.2,380.4 412.0,384.5" fill="none" stroke="#000" stroke-width="5.2" stroke-linejoin="round" stroke-linecap="round" />
<path d="M317.5,306.0 C319.2,309.2 324.9,320.0 328.0,325.0 C331.1,330.0 333.7,333.1 336.0,336.0 C338.3,338.9 341.0,341.4 342.0,342.5" fill="none" stroke="#000" stroke-width="4.6" stroke-linejoin="round" stroke-linecap="round" />
<path d="M333.0,333.0 C333.8,332.3 339.2,339.3 342.0,341.5 C344.8,343.7 347.3,344.6 350.0,346.0 C352.7,347.4 355.5,348.4 358.0,350.0 C360.5,351.6 363.4,353.6 365.0,355.5 C366.6,357.4 367.6,359.6 367.8,361.5 C368.0,363.4 367.1,366.0 366.0,366.8 C364.9,367.6 362.7,367.2 361.0,366.5 C359.3,365.8 357.9,364.2 356.0,362.5 C354.1,360.8 351.6,357.7 349.5,356.0 C347.4,354.3 345.6,354.2 343.5,352.5 C341.4,350.8 338.8,348.8 337.0,345.5 C335.2,342.2 332.2,333.7 333.0,333.0Z" fill="#9e2a18" stroke="#000" stroke-width="4.5" stroke-linejoin="round" stroke-linecap="round" />
<ellipse cx="345" cy="372.8" rx="12.6" ry="8.6" fill="#f54b2d" stroke="#000" stroke-width="4.3" transform="rotate(18 345 372.8)"/>
<path d="M251.0,156.0 C253.0,151.8 259.9,152.9 265.0,151.0 C270.1,149.1 276.3,146.2 281.5,144.5 C286.7,142.8 291.2,141.8 296.0,141.0 C300.8,140.2 303.7,139.3 310.0,139.5 C316.3,139.7 326.4,141.2 334.0,142.0 C341.6,142.8 349.5,143.6 355.5,144.0 C361.5,144.4 366.1,144.2 370.0,144.3 C373.9,144.4 375.9,144.2 379.0,144.5 C382.1,144.8 385.1,145.7 388.6,146.4 C392.1,147.1 397.2,147.7 400.0,148.8 C402.8,149.9 404.3,150.8 405.3,153.0 C406.3,155.2 406.2,159.4 406.0,162.0 C405.8,164.6 405.5,166.8 404.0,168.8 C402.5,170.8 399.6,172.9 397.0,173.8 C394.4,174.7 392.4,174.8 388.6,174.3 C384.8,173.8 379.1,171.7 374.3,170.9 C369.5,170.1 364.7,169.7 360.0,169.6 C355.3,169.5 350.3,170.3 346.0,170.6 C341.7,170.9 337.8,170.8 334.4,171.6 C331.0,172.4 328.1,173.3 325.6,175.2 C323.1,177.1 321.1,180.2 319.2,182.9 C317.3,185.7 315.6,188.8 314.0,191.7 C312.4,194.6 310.6,197.2 309.3,200.6 C308.0,204.0 307.1,208.1 306.3,212.0 C305.6,215.9 304.9,218.7 304.8,224.0 C304.8,229.3 305.4,238.0 306.0,244.0 C306.6,250.0 307.7,254.3 308.5,260.0 C309.3,265.7 310.1,271.2 311.0,278.0 C311.9,284.8 313.1,292.3 314.0,301.0 C314.9,309.7 315.7,322.8 316.5,330.0 C317.3,337.2 318.2,337.2 319.0,344.0 C319.8,350.8 320.4,362.9 321.5,371.0 C322.6,379.1 324.4,387.2 325.5,392.5 C326.6,397.8 329.2,399.6 328.0,403.0 C326.8,406.4 322.7,414.2 318.0,413.0 C313.3,411.8 303.2,403.0 300.0,396.0 C296.8,389.0 299.4,379.7 298.5,371.0 C297.6,362.3 295.6,353.0 294.5,344.0 C293.4,335.0 292.8,324.2 292.0,317.0 C291.2,309.8 290.2,307.5 289.5,301.0 C288.8,294.5 288.7,285.8 288.0,278.0 C287.3,270.2 286.4,261.2 285.5,254.0 C284.6,246.8 283.4,241.8 282.5,235.0 C281.6,228.2 280.9,218.8 280.0,213.0 C279.1,207.2 279.0,203.5 277.0,200.0 C275.0,196.5 271.2,193.8 268.0,192.0 C264.8,190.2 260.5,191.7 258.0,189.0 C255.5,186.3 254.2,181.5 253.0,176.0 C251.8,170.5 249.0,160.2 251.0,156.0Z" fill="#1484fc" stroke="#000" stroke-width="4" stroke-linejoin="round" stroke-linecap="round" />
<path d="M395.5,150.5 L402.0,150.0 L405.5,155.0 L405.3,163.5 L401.5,171.0 L391.0,170.5Z" fill="#172a9c" stroke="none" stroke-width="0" stroke-linejoin="round" stroke-linecap="round" />
<path d="M395.7,150.5 L391.0,171.0" fill="none" stroke="#06103a" stroke-width="1.6" stroke-linejoin="round" stroke-linecap="round" />
<path d="M388.6,146.4 C390.5,146.8 397.2,147.7 400.0,148.8 C402.8,149.9 404.3,150.8 405.3,153.0 C406.3,155.2 406.2,159.4 406.0,162.0 C405.8,164.6 405.5,166.8 404.0,168.8 C402.5,170.8 399.6,172.9 397.0,173.8 C394.4,174.7 390.0,174.2 388.6,174.3" fill="none" stroke="#000" stroke-width="4" stroke-linejoin="round" stroke-linecap="round" />
<path d="M298.7,398.5 C299.0,397.1 300.6,394.2 302.0,393.0 C303.4,391.8 306.2,390.3 308.3,390.3 C310.4,390.3 314.1,391.8 316.2,392.7 C318.3,393.6 320.6,395.1 322.0,396.5 C323.4,397.9 324.8,400.3 325.5,402.0 C326.2,403.7 326.4,406.4 326.5,408.0 C326.6,409.6 326.6,411.9 326.0,413.0 C325.4,414.1 324.3,415.2 322.5,415.0 C320.7,414.8 316.3,413.0 313.8,411.7 C311.3,410.4 308.0,407.7 305.9,406.2 C303.8,404.7 301.1,403.2 300.0,402.0 C298.9,400.8 298.4,399.9 298.7,398.5Z" fill="#172a9c" stroke="#000" stroke-width="3.8" stroke-linejoin="round" stroke-linecap="round" />
<path d="M297.0,378.0 C295.5,378.7 293.3,384.0 291.0,387.0 C288.7,390.0 285.8,392.8 283.0,396.0 C280.2,399.2 275.8,403.7 274.0,406.5 C272.2,409.3 271.5,411.6 272.0,413.0 C272.5,414.4 274.1,416.3 277.0,415.0 C279.9,413.7 285.9,408.4 289.5,405.0 C293.1,401.6 296.8,398.2 298.5,394.5 C300.2,390.8 300.2,385.8 300.0,383.0 C299.8,380.2 298.5,377.3 297.0,378.0Z" fill="#9e2a18" stroke="#000" stroke-width="4" stroke-linejoin="round" stroke-linecap="round" />
<path d="M228.0,404.0 C228.5,402.1 231.3,405.8 235.0,406.5 C238.7,407.2 245.5,407.3 250.0,408.0 C254.5,408.7 259.0,409.3 262.0,410.5 C265.0,411.7 267.9,413.5 268.0,415.0 C268.1,416.5 264.6,419.1 262.4,419.5 C260.2,419.9 257.6,418.0 255.0,417.5 C252.4,417.0 249.5,416.5 247.0,416.3 C244.5,416.1 242.5,416.2 240.0,416.5 C237.5,416.8 234.0,420.1 232.0,418.0 C230.0,415.9 227.5,405.9 228.0,404.0Z" fill="#9e2a18" stroke="none" stroke-width="0" stroke-linejoin="round" stroke-linecap="round" />
<path d="M188.0,391.0 C190.0,391.9 194.7,394.3 200.0,396.5 C205.3,398.7 214.2,402.3 220.0,404.0 C225.8,405.7 230.0,405.8 235.0,406.5 C240.0,407.2 245.5,407.3 250.0,408.0 C254.5,408.7 259.0,409.3 262.0,410.5 C265.0,411.7 267.9,413.5 268.0,415.0 C268.1,416.5 264.6,419.1 262.4,419.5 C260.2,419.9 257.6,418.0 255.0,417.5 C252.4,417.0 249.5,416.5 247.0,416.3 C244.5,416.1 242.0,416.1 240.0,416.5 C238.0,416.9 236.4,417.4 235.0,418.5 C233.6,419.6 231.7,421.1 231.3,423.0 C230.9,424.9 231.4,427.6 232.5,430.0 C233.6,432.4 236.8,436.2 237.6,437.5" fill="none" stroke="#000" stroke-width="4" stroke-linejoin="round" stroke-linecap="round" />
<path d="M284.0,136.0 L292.0,136.0 L292.0,160.0 L284.0,160.0Z" fill="#1474e8" stroke="none" stroke-width="0" stroke-linejoin="round" stroke-linecap="round" />
<path d="M283.6,134.0 C283.6,136.7 283.6,146.0 283.6,150.0 C283.6,154.0 283.7,155.7 283.4,158.0 C283.1,160.3 282.7,162.2 282.0,164.0 C281.3,165.8 279.5,167.8 279.0,168.5" fill="none" stroke="#000" stroke-width="5" stroke-linejoin="round" stroke-linecap="round" />
<path d="M292.2,134.0 C292.2,136.7 292.2,146.0 292.2,150.0 C292.2,154.0 292.1,155.8 292.3,158.0 C292.5,160.2 292.8,162.0 293.2,163.5 C293.6,165.0 294.7,166.2 295.0,166.8" fill="none" stroke="#000" stroke-width="5" stroke-linejoin="round" stroke-linecap="round" />
<path d="M282.0,130.8 L293.8,130.8 L293.8,136.0 L282.0,136.0Z" fill="#1a2fa0" stroke="#000" stroke-width="2.4" stroke-linejoin="round" stroke-linecap="round" />
<g clip-path="url(#frontclip)"><path d="M285.8,292.0 C284.6,292.5 281.2,285.5 278.0,281.0 C274.8,276.5 269.8,269.7 266.5,265.0 C263.2,260.3 261.0,257.7 258.0,253.0 C255.0,248.3 251.7,243.3 248.5,237.0 C245.3,230.7 242.4,223.0 239.0,215.0 C235.6,207.0 230.8,196.5 228.0,189.0 C225.2,181.5 223.8,176.0 222.5,170.0 C221.2,164.0 220.5,158.0 220.0,153.0 C219.5,148.0 219.6,144.5 219.5,140.0 C219.4,135.5 219.1,130.2 219.5,126.0 C219.9,121.8 220.8,118.2 222.0,115.0 C223.2,111.8 224.7,109.7 226.5,107.0 C228.3,104.3 230.6,101.2 233.0,99.0 C235.4,96.8 236.9,95.6 241.0,93.5 C245.1,91.4 252.7,88.2 257.5,86.3 C262.3,84.4 266.1,83.3 270.0,82.3 C273.9,81.3 277.2,80.7 281.0,80.2 C284.8,79.7 289.3,79.4 293.0,79.5 C296.7,79.6 299.3,79.6 303.0,80.8 C306.7,82.0 310.7,83.4 315.0,86.5 C319.3,89.6 324.8,94.6 329.0,99.3 C333.2,104.0 337.1,109.2 340.0,114.5 C342.9,119.8 345.1,125.9 346.5,131.0 C347.9,136.1 347.9,140.2 348.2,145.0 C348.5,149.8 348.3,154.2 348.3,160.0 C348.3,165.8 348.3,173.3 348.3,180.0 C348.3,186.7 348.3,195.3 348.3,200.0 C348.3,204.7 352.7,206.7 348.3,208.0 C343.9,209.3 326.4,211.0 322.0,208.0 C317.6,205.0 322.1,195.3 322.0,190.0 C321.9,184.7 322.3,180.7 321.3,176.0 C320.3,171.3 317.6,166.3 316.0,162.0 C314.4,157.7 312.3,153.8 311.5,150.0 C310.7,146.2 311.6,142.5 311.0,139.5 C310.4,136.5 309.8,134.4 308.0,132.0 C306.2,129.6 303.0,126.7 300.5,125.0 C298.0,123.3 295.8,122.6 293.0,122.0 C290.2,121.4 287.0,121.5 284.0,121.5 C281.0,121.5 277.8,121.6 275.0,122.0 C272.2,122.4 269.5,123.0 267.0,124.0 C264.5,125.0 262.0,126.4 260.0,128.0 C258.0,129.6 256.5,131.6 255.0,133.6 C253.5,135.6 251.9,137.6 251.0,140.0 C250.1,142.4 249.7,144.7 249.5,148.0 C249.3,151.3 249.7,155.5 250.0,160.0 C250.3,164.5 250.8,170.5 251.5,175.0 C252.2,179.5 252.9,183.5 254.0,187.0 C255.1,190.5 256.5,193.2 258.0,196.0 C259.5,198.8 261.0,200.3 263.0,204.0 C265.0,207.7 267.7,212.7 270.0,218.0 C272.3,223.3 275.0,229.2 277.0,236.0 C279.0,242.8 280.6,252.0 282.0,259.0 C283.4,266.0 284.9,272.5 285.5,278.0 C286.1,283.5 287.1,291.5 285.8,292.0Z" fill="#f4473f" stroke="#000" stroke-width="5" stroke-linejoin="round"/></g>
<path d="M228.5,77.0 L245.5,74.5 L249.5,86.0 L256.5,95.0 L262.0,100.0 L249.0,104.0 L243.0,100.0 L235.0,89.0Z" fill="#f4473f" stroke="none" stroke-width="0" stroke-linejoin="round" stroke-linecap="round" />
<path d="M229.0,77.5 C230.0,79.2 232.9,84.8 235.0,88.0 C237.1,91.2 240.1,94.5 241.5,97.0 C242.9,99.5 243.2,100.2 243.2,103.0 C243.2,105.8 241.6,111.8 241.3,113.5" fill="none" stroke="#000" stroke-width="5" stroke-linejoin="round" stroke-linecap="round" />
<path d="M245.5,75.0 C246.1,76.8 247.2,82.8 249.0,86.0 C250.8,89.2 253.7,91.8 256.5,94.0 C259.3,96.2 264.4,98.2 266.0,99.0" fill="none" stroke="#000" stroke-width="5" stroke-linejoin="round" stroke-linecap="round" />
<ellipse cx="236.5" cy="74" rx="8.6" ry="4.6" fill="#f5482f" stroke="#000" stroke-width="4" transform="rotate(-8 236.5 74)"/>
<path d="M324.5,73.0 L338.5,79.5 L332.5,88.0 L326.5,97.0 L318.0,100.0 L309.0,94.0 L320.5,81.0Z" fill="#f4473f" stroke="none" stroke-width="0" stroke-linejoin="round" stroke-linecap="round" />
<path d="M324.0,73.0 C323.4,74.3 322.0,78.2 320.5,81.0 C319.0,83.8 317.8,87.3 315.0,89.5 C312.2,91.7 305.8,93.2 304.0,94.0" fill="none" stroke="#000" stroke-width="5" stroke-linejoin="round" stroke-linecap="round" />
<path d="M338.5,79.0 C337.5,80.5 334.5,85.0 332.5,88.0 C330.5,91.0 327.9,93.6 326.5,97.0 C325.1,100.4 324.4,106.6 324.0,108.5" fill="none" stroke="#000" stroke-width="5" stroke-linejoin="round" stroke-linecap="round" />
<ellipse cx="331.8" cy="75.3" rx="7.6" ry="4" fill="#f5482f" stroke="#000" stroke-width="4" transform="rotate(32 331.5 75)"/>
<line x1="95" y1="138" x2="177" y2="196" stroke="#0a0a0a" stroke-width="4"/>
<line x1="324.3" y1="117.4" x2="408.5" y2="117.4" stroke="#0a0a0a" stroke-width="3.8"/>
<line x1="367" y1="158" x2="482" y2="194.3" stroke="#0a0a0a" stroke-width="4.2"/>
<line x1="487.5" y1="219" x2="423" y2="264.5" stroke="#0a0a0a" stroke-width="4.2"/>
<line x1="101" y1="322.6" x2="173.5" y2="322.6" stroke="#0a0a0a" stroke-width="3.4"/>
<line x1="371.5" y1="302.6" x2="444.5" y2="302.6" stroke="#0a0a0a" stroke-width="3.3"/>
<line x1="387.5" y1="395.6" x2="462" y2="395.6" stroke="#0a0a0a" stroke-width="3.3"/>
<line x1="221.5" y1="525.5" x2="294" y2="454" stroke="#0a0a0a" stroke-width="2.8"/>
</svg>
<div class="lb" style="left:29.5px;top:106.4px;transform:scaleX(0.9638);transform-origin:0 0">Vena Cava</div>
<div class="lb" style="left:414.0px;top:103.9px;transform:scaleX(0.9940);transform-origin:0 0">Aorta</div>
<div class="lb" style="left:496.4px;top:183.9px;transform:scaleX(0.9660);transform-origin:0 0">To &amp; From</div>
<div class="lb" style="left:516.7px;top:209.6px;transform:scaleX(0.9746);transform-origin:0 0">Lungs</div>
<div class="lb" style="left:20.9px;top:281.9px;transform:scaleX(1.0049);transform-origin:0 0">Right</div>
<div class="lb" style="left:20.9px;top:307.8px;transform:scaleX(1.0107);transform-origin:0 0">Atrium</div>
<div class="lb" style="left:451.2px;top:289.1px;transform:scaleX(1.0109);transform-origin:0 0">Left Atrium</div>
<div class="lb" style="left:469.2px;top:382.9px;transform:scaleX(1.0124);transform-origin:0 0">Left Ventricle</div>
<div class="lb" style="left:56.1px;top:510.7px;transform:scaleX(1.0089);transform-origin:0 0">Right Ventricle</div>
</div>
</body></html>
